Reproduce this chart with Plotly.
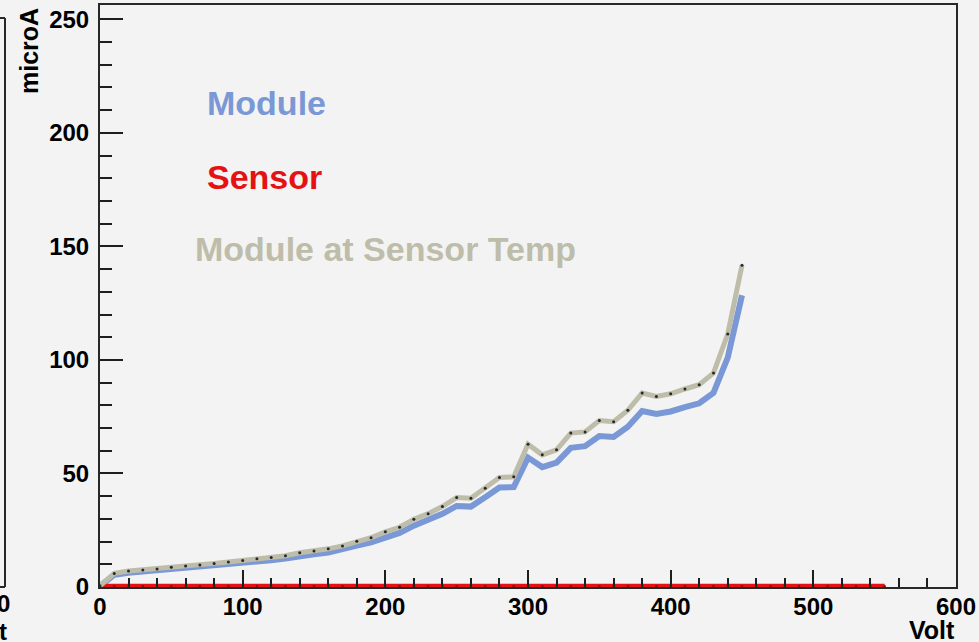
import plotly.graph_objects as go

# ---- data ----
volts = [0, 10, 20, 30, 40, 50, 60, 70, 80, 90, 100, 110, 120, 130, 140, 150, 160, 170,
         180, 190, 200, 210, 220, 230, 240, 250, 260, 270, 280, 290, 300, 310, 320, 330,
         340, 350, 360, 370, 380, 390, 400, 410, 420, 430, 440, 450]

module_uA = [0.4, 5.4, 6.3, 6.8, 7.2, 7.9, 8.4, 8.8, 9.4, 10.0, 10.6, 11.2, 11.8, 12.5,
             13.7, 14.4, 15.2, 16.4, 18.2, 19.7, 22.0, 23.8, 27.0, 29.3, 32.2, 35.7, 35.4,
             39.5, 43.8, 44.0, 57.0, 52.8, 54.8, 61.3, 62.0, 66.5, 66.1, 70.6, 77.5, 76.2,
             77.3, 79.2, 80.9, 85.5, 101.0, 128.5]

module_at_sensor_temp_uA = [0.5, 6.0, 7.0, 7.5, 7.9, 8.7, 9.2, 9.7, 10.4, 11.0, 11.7, 12.4,
                            13.0, 13.8, 15.1, 15.9, 16.8, 18.1, 20.1, 21.7, 24.3, 26.3,
                            29.8, 32.3, 35.4, 39.4, 39.1, 43.5, 48.2, 48.5, 62.9, 58.2,
                            60.4, 67.8, 68.3, 73.3, 72.8, 77.8, 85.4, 83.9, 85.1, 87.2,
                            89.1, 94.2, 111.4, 141.7]

sensor_volts = [0, 10, 20, 30, 40, 50, 60, 70, 80, 90, 100, 110, 120, 130, 140, 150, 160,
                170, 180, 190, 200, 210, 220, 230, 240, 250, 260, 270, 280, 290, 300, 310,
                320, 330, 340, 350, 360, 370, 380, 390, 400, 410, 420, 430, 440, 450, 460,
                470, 480, 490, 500, 510, 520, 530, 540, 550]
sensor_uA = [0.3, 0.3, 0.3, 0.3, 0.3, 0.3, 0.3, 0.3, 0.3, 0.3, 0.3, 0.3, 0.3, 0.3, 0.3,
             0.3, 0.3, 0.3, 0.3, 0.3, 0.3, 0.3, 0.3, 0.3, 0.3, 0.3, 0.3, 0.3, 0.3, 0.3,
             0.3, 0.3, 0.3, 0.3, 0.3, 0.3, 0.3, 0.3, 0.3, 0.3, 0.3, 0.3, 0.3, 0.3, 0.3,
             0.3, 0.3, 0.3, 0.3, 0.3, 0.3, 0.3, 0.3, 0.3, 0.3, 0.3]

x_ticks = [0, 100, 200, 300, 400, 500, 600]
y_ticks = [0, 50, 100, 150, 200, 250]

BLUE = "rgb(122,152,214)"
RED = "rgb(228,18,18)"
GREY = "rgb(190,189,170)"
BG = "rgb(243,243,243)"
FONT = "Liberation Sans, Arial, Helvetica, sans-serif"

fig = go.Figure()
fig.add_trace(go.Scatter(x=volts, y=module_uA, mode="lines",
                         line=dict(color=BLUE, width=6), name="Module"))
fig.add_trace(go.Scatter(x=sensor_volts, y=sensor_uA, mode="lines+markers",
                         line=dict(color=RED, width=5),
                         marker=dict(color="rgb(120,20,20)", size=2.5), name="Sensor"))
fig.add_trace(go.Scatter(x=volts, y=module_at_sensor_temp_uA, mode="lines+markers",
                         line=dict(color=GREY, width=5),
                         marker=dict(color="rgb(40,40,40)", size=3),
                         name="Module at Sensor Temp"))

axis_common = dict(showgrid=False, zeroline=False, showline=True, linecolor="rgb(40,40,40)",
                   linewidth=2, mirror=True, ticks="inside", tickwidth=2,
                   tickcolor="rgb(30,30,30)", automargin=False,
                   tickfont=dict(family=FONT, size=24, color="black", weight="bold"))

fig.update_xaxes(range=[0, 600], tickvals=x_ticks, ticklen=17, ticklabelstandoff=-3,
                 minor=dict(dtick=20, ticklen=9, ticks="inside", tickwidth=2,
                            tickcolor="rgb(30,30,30)"),
                 **axis_common)
fig.update_yaxes(range=[0, 256.3], tickvals=y_ticks, ticklen=23, ticklabelstandoff=4,
                 minor=dict(dtick=10, ticklen=12, ticks="inside", tickwidth=2,
                            tickcolor="rgb(30,30,30)"),
                 **axis_common)

annots = [
    dict(text="microA", x=(29 - 100) / 856, y=(587 - 6) / 582, xanchor="center",
         yanchor="top", textangle=-90, font=dict(size=25)),
    dict(text="Volt", x=(957 - 100) / 856, y=(587 - 614) / 582, xanchor="right",
         yanchor="top", font=dict(size=25)),
    dict(text="Module", x=(205 - 100) / 856, y=(587 - 103) / 582, xanchor="left",
         yanchor="middle", font=dict(size=34, color=BLUE)),
    dict(text="Sensor", x=(205 - 100) / 856, y=(587 - 177) / 582, xanchor="left",
         yanchor="middle", font=dict(size=34, color=RED)),
    dict(text="Module at Sensor Temp", x=(193 - 100) / 856, y=(587 - 249) / 582,
         xanchor="left", yanchor="middle", font=dict(size=34, color=GREY)),
    dict(text="0", x=(3 - 100) / 856, y=(587 - 604) / 582, xanchor="center",
         yanchor="middle", font=dict(size=24)),
    dict(text="t", x=(3 - 100) / 856, y=(587 - 631) / 582, xanchor="center",
         yanchor="middle", font=dict(size=24)),
]
for a in annots:
    f = dict(family=FONT, color="black", weight="bold")
    f.update(a.pop("font"))
    fig.add_annotation(xref="paper", yref="paper", showarrow=False, font=f, **a)

# partial neighbouring pad at the left edge
px0 = (5 - 100) / 856
fig.add_shape(type="line", xref="paper", yref="paper", x0=px0, x1=px0,
              y0=0, y1=(587 - 18) / 582, line=dict(color="rgb(40,40,40)", width=2))
fig.add_shape(type="line", xref="paper", yref="paper", x0=-0.13, x1=px0,
              y0=0, y1=0, line=dict(color="rgb(40,40,40)", width=2))
fig.add_shape(type="line", xref="paper", yref="paper", x0=-0.13, x1=px0,
              y0=(587 - 18) / 582, y1=(587 - 18) / 582,
              line=dict(color="rgb(40,40,40)", width=2))

fig.update_layout(width=979, height=642, showlegend=False,
                  margin=dict(l=100, r=23, t=5, b=55),
                  paper_bgcolor=BG, plot_bgcolor=BG,
                  font=dict(family=FONT))

fig.write_html("out.html", config={"displayModeBar": False},
               post_script="document.body.style.margin='0';"
                           "document.body.style.background='rgb(243,243,243)';")
